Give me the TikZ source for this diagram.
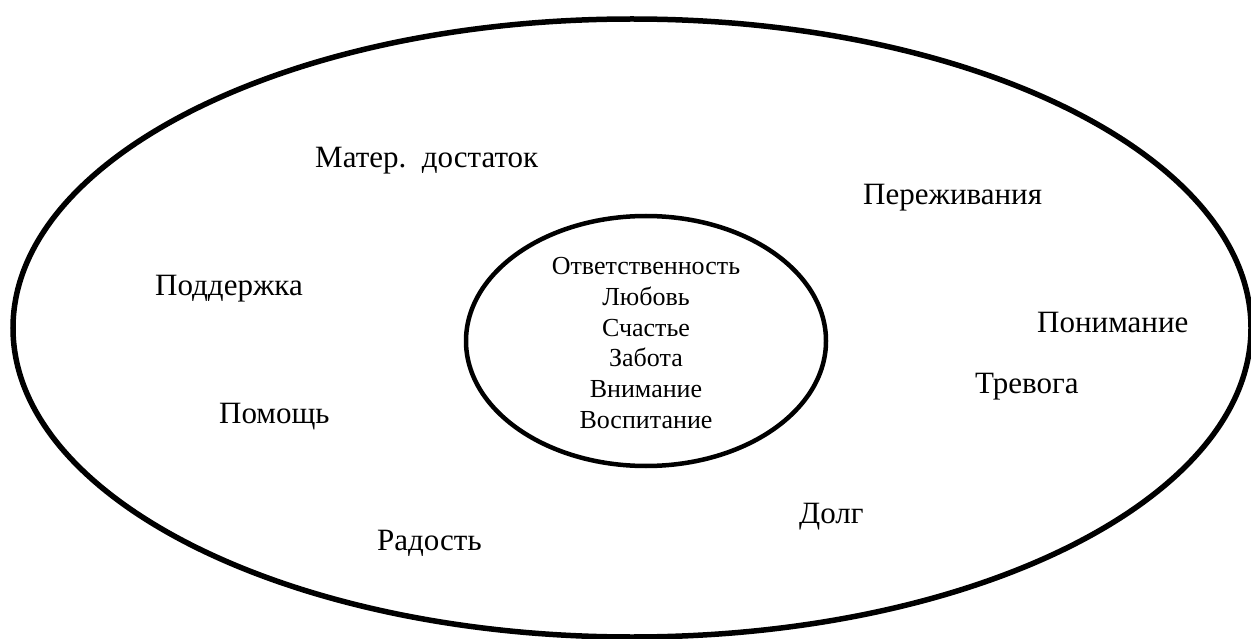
\documentclass[tikz,border=0pt]{standalone}
\usepackage{fontspec}
\setmainfont{Liberation Serif}
\begin{document}
\begin{tikzpicture}[x=1pt,y=-1pt,
  ring/.style={draw=black,line width=5.5pt},
  word/.style={anchor=base west,inner sep=0pt,font=\fontsize{31}{36}\selectfont},
  core/.style={anchor=base,inner sep=0pt,font=\fontsize{26}{30}\selectfont}]
\useasboundingbox (0,0) rectangle (1251,639);
\draw[ring] (632,328) ellipse [x radius=619, y radius=309];
\draw[ring, line width=4.5pt] (646,341) ellipse [x radius=180, y radius=125];
\node[core] (l1) at (646,275) {Ответственность};
\node[core] (l2) at (646,305.6) {Любовь};
\node[core] (l3) at (646,336.2) {Счастье};
\node[core] (l4) at (646,366.8) {Забота};
\node[core] (l5) at (646,397.4) {Внимание};
\node[core] (l6) at (646,428) {Воспитание};
\node[word] (w1) at (315,168) {Матер.\ \ достаток};
\node[word] (w2) at (863,205) {Переживания};
\node[word] (w3) at (155,296) {Поддержка};
\node[word] (w4) at (1037,332) {Понимание};
\node[word] (w5) at (975,393) {Тревога};
\node[word] (w6) at (219,423) {Помощь};
\node[word] (w7) at (799,523) {Долг};
\node[word] (w8) at (377,550) {Радость};
\end{tikzpicture}
\end{document}
